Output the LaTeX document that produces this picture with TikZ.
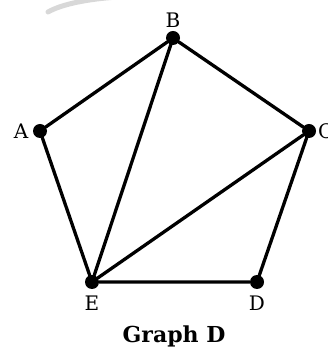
\documentclass[tikz,border=0pt]{standalone}
\usepackage{fontspec}
\setmainfont{DejaVu Serif}
\usepackage{xcolor}
\definecolor{ink}{HTML}{000000}
\definecolor{smudge}{HTML}{D8D8D8}
\usepackage{tikz}
\usetikzlibrary{positioning}
\tikzset{
  vertex/.style={circle, fill=ink, draw=none, minimum size=14pt, inner sep=0pt},
  vname/.style={font=\fontsize{20}{20}\selectfont, text=ink, inner sep=0pt},
  edge/.style={draw=ink, line width=3.3pt, line cap=round},
  caption/.style={font=\fontsize{22}{22}\selectfont\bfseries, text=ink, inner sep=0pt},
}
\begin{document}
\begin{tikzpicture}[x=1pt, y=1pt]
  \useasboundingbox (0,0) rectangle (327,350);

  % Faint grey stroke near the top edge.
  \draw[smudge, line width=5pt, line cap=round]
    (48,338) .. controls (62,346) and (88,351) .. (118,353);

  % The five vertices of the pentagon.
  \node[vertex] (B) at (173,312) {};
  \node[vertex] (A) at (40,219) {};
  \node[vertex] (C) at (309,219) {};
  \node[vertex] (E) at (92,68) {};
  \node[vertex] (D) at (257,68) {};

  % Their names.
  \node[vname] (lB) at (173,330) {B};
  \node[vname] (lA) at (21,219) {A};
  \node[vname, anchor=west] (lC) at (318,219) {C};
  \node[vname] (lE) at (92,47) {E};
  \node[vname] (lD) at (257,47) {D};

  % Outer cycle and the two chords from E.
  \draw[edge] (A) -- (B) -- (C) -- (D) -- (E) -- (A);
  \draw[edge] (B) -- (E);
  \draw[edge] (C) -- (E);

  \node[caption, anchor=base] (cap) at (174,7) {Graph D};
\end{tikzpicture}
\end{document}
